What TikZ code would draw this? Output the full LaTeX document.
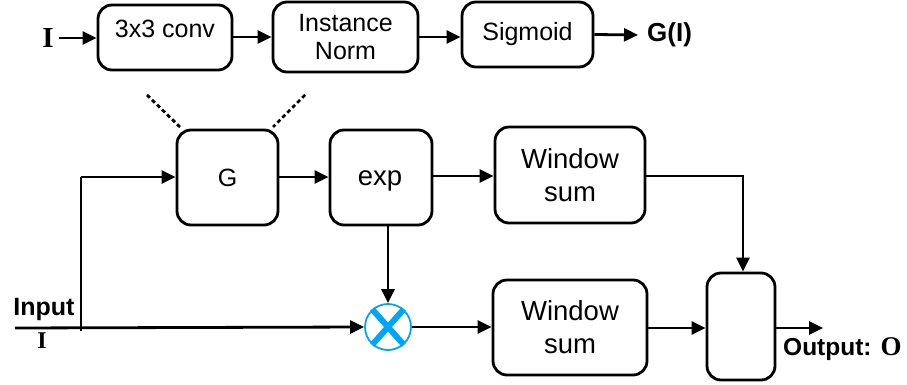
\documentclass[tikz,border=0pt]{standalone}
\usepackage{fontspec}
\setmainfont{Liberation Serif}
\setsansfont{Liberation Sans}
\usetikzlibrary{arrows.meta}
\definecolor{mulblue}{RGB}{0,165,245}
\tikzset{
  blk/.style={draw, line width=2.8pt, rounded corners=14pt, font=\sffamily\fontsize{25}{28}\selectfont, align=center, inner sep=0pt},
  blkbig/.style={blk, font=\sffamily\fontsize{27.5}{33}\selectfont},
  flow/.style={line width=2.8pt, -{Triangle[length=14pt,width=13pt]}},
  wire/.style={line width=2.8pt},
  hint/.style={line width=2.8pt, dash pattern=on 4pt off 3pt},
  bold sans/.style={font=\sffamily\bfseries\fontsize{25}{28}\selectfont, inner sep=0pt},
  bold serif/.style={font=\rmfamily\bfseries\fontsize{29}{30}\selectfont, inner sep=0pt}
}
\begin{document}
\begin{tikzpicture}[x=1pt, y=-1pt]
\useasboundingbox (0,0) rectangle (907,385);

% inner structure of G
\node[bold serif] (gin) at (48,38) {I};
\node[blk, minimum width=134pt, minimum height=65pt] (conv) at (165,37.5) {};
\node[font=\sffamily\fontsize{25}{28}\selectfont, inner sep=0pt] (convtxt) at (165,29) {3x3 conv};
\node[blk, minimum width=145pt, minimum height=70pt] (inorm) at (345.5,37) {Instance\\Norm};
\node[blk, minimum width=131pt, minimum height=65pt] (sig) at (527.5,34.5) {Sigmoid};
\node[bold sans, anchor=west, font=\sffamily\bfseries\fontsize{26}{28}\selectfont] (gout) at (647,35) {G(I)};
\coordinate (goutend) at (638,35);

\draw[flow] (gin.east) ++(5pt,0) coordinate (gstart) -- (gstart -| conv.west);
\draw[flow] (conv.east |- 0,37) -- (inorm.west |- 0,37);
\draw[flow] (inorm.east |- 0,37) -- (sig.west |- 0,37);
\draw[flow] (sig.east) -- (goutend);

% main pipeline
\node[blk, minimum width=101pt, minimum height=95pt] (G) at (227.5,177.5) {G};
\node[blk, minimum width=102pt, minimum height=95pt] (exp) at (381,177.5) {};
\node[font=\sffamily\fontsize{27.5}{30}\selectfont, inner sep=0pt, anchor=base] (exptxt) at (380,185) {exp};
\node[blkbig, minimum width=150pt, minimum height=96pt] (ws1) at (570,175) {Window\\sum};
\node[blkbig, minimum width=154pt, minimum height=95pt] (ws2) at (570,327.5) {Window\\sum};
\node[blk, minimum width=68pt, minimum height=107pt] (comb) at (741,326.5) {};
\node[circle, draw=mulblue, line width=1.8pt, minimum size=46pt, inner sep=0pt] (mul) at (388,327) {};
\draw[mulblue, line width=6pt] (mul.north east) ++(-1pt,1pt) -- ([shift={(1pt,-1pt)}]mul.south west);
\draw[mulblue, line width=6pt] (mul.north west) ++(1pt,1pt) -- ([shift={(-1pt,-1pt)}]mul.south east);

% zoom hints from G to its inner structure
\coordinate (h1a) at (147,95);
\coordinate (h1b) at (180,127);
\coordinate (h2a) at (305,95);
\coordinate (h2b) at (273,127);
\draw[hint] (h1a) -- (h1b);
\draw[hint] (h2a) -- (h2b);

% input and output labels
\node[bold sans, font=\sffamily\bfseries\fontsize{25}{27}\selectfont] (inlbl) at (44,309) {Input};
\node[bold serif, font=\rmfamily\bfseries\fontsize{24}{26}\selectfont] (inI) at (42,341) {I};
\node[anchor=west, inner sep=0pt] (outlbl) at (783,349) {\sffamily\bfseries\fontsize{24.5}{26}\selectfont Output: \rmfamily\fontsize{27}{26}\selectfont O};

\coordinate (in0) at (15,328);
\coordinate (splitlow) at (81,331);
\coordinate (splittop) at (81,177);
\coordinate (outend) at (823,328);

\draw[wire] (splitlow) -- (splittop);
\draw[flow] (splittop) -- (G.west |- splittop);
\draw[flow] (in0) -- (mul.west);
\draw[flow] (G.east |- splittop) -- (exp.west |- splittop);
\draw[flow] (exp.east |- 0,176) -- (ws1.west |- 0,176);
\draw[flow] (exp.south -| mul.north) -- (mul.north);
\draw[flow] (mul.east) -- (ws2.west |- mul.east);
\draw[flow] (ws1.east |- 0,176) -| ([xshift=2pt]comb.north);
\draw[flow] (ws2.east |- 0,328) -- (comb.west |- 0,328);
\draw[flow] (comb.east |- 0,328) -- (outend);
\end{tikzpicture}
\end{document}
